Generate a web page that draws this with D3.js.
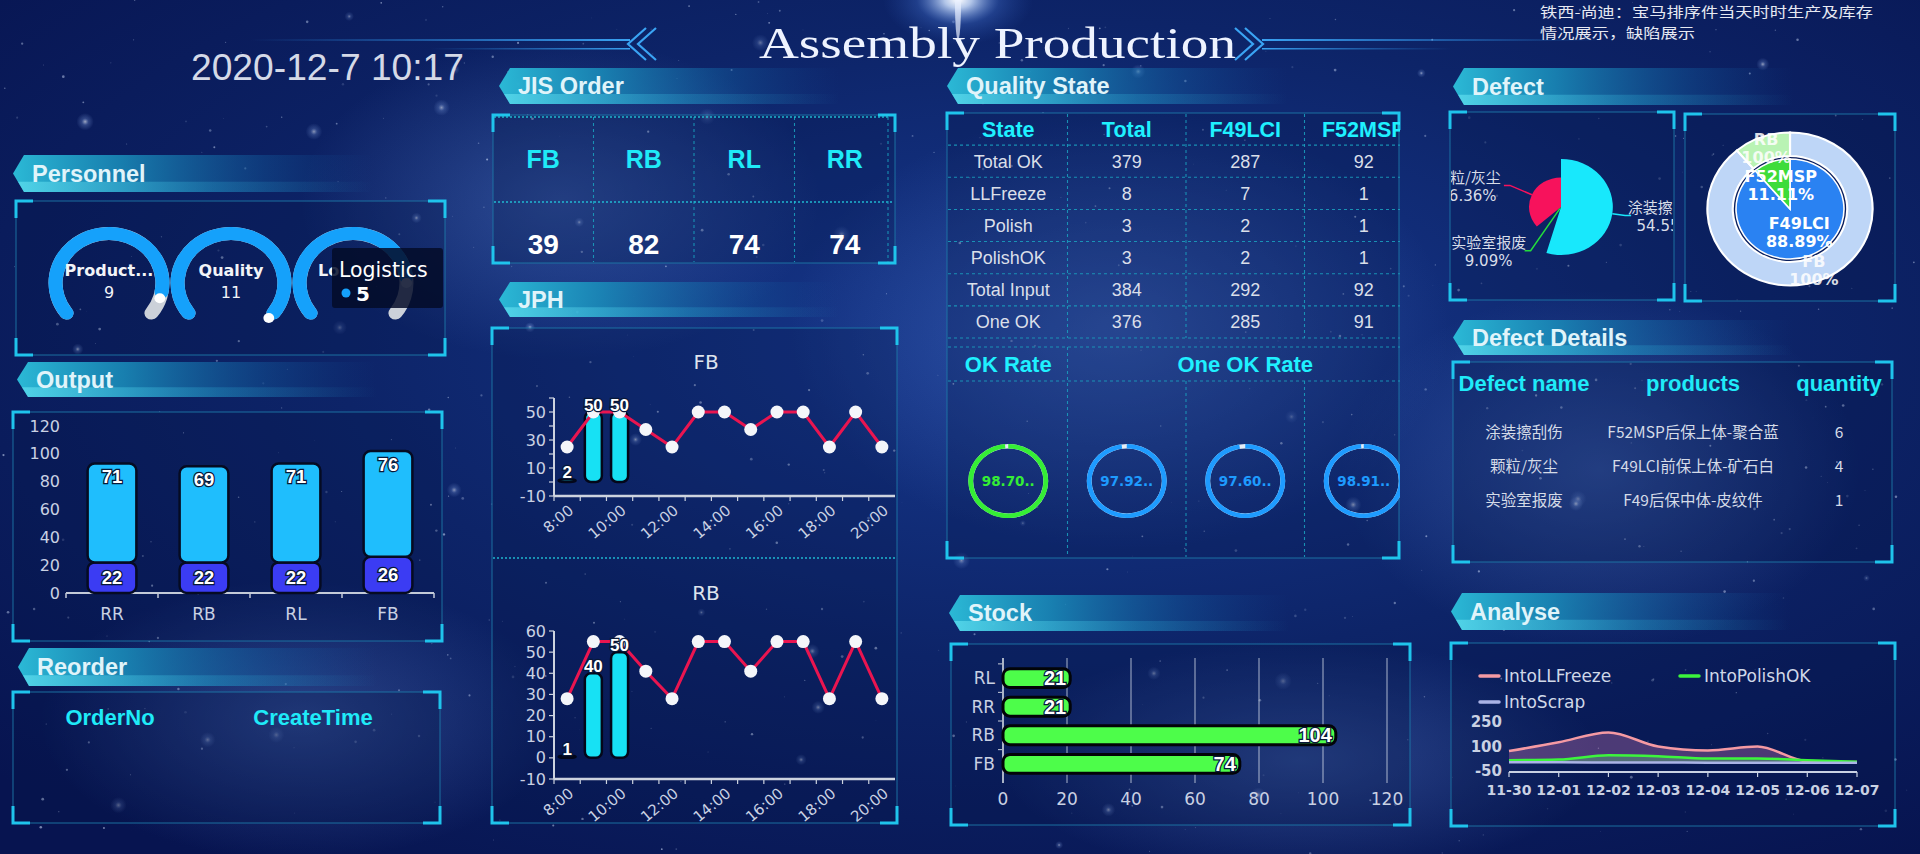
<!DOCTYPE html>
<html lang="en">
<head>
<meta charset="UTF-8">
<title>Assembly Production</title>
<script src="https://d3js.org/d3.v7.min.js"></script>
<style>
  html, body { margin: 0; padding: 0; background: #081650; overflow: hidden; }
  svg { display: block; }
  text { font-family: "Liberation Sans", Arial, sans-serif; }
  .cjk { font-family: "Noto Sans CJK SC", sans-serif; }
  .dv { font-family: "DejaVu Sans", sans-serif; }
</style>
</head>
<body>
<svg id="board"></svg>
<script>

// ---------- data ----------
const titleText = 'Assembly Production';
const clockText = '2020-12-7 10:17';
const noteLines = ['铁西-尚迪：宝马排序件当天时时生产及库存', '情况展示，缺陷展示'];

const personnelNames = ['Production', 'Quality', 'Logistics'];
const personnelValues = [9, 11, 5];
const personnelMax = [10, 11, 6];

const jisParts = ['FB', 'RB', 'RL', 'RR'];
const jisCounts = [39, 82, 74, 74];

const outputParts = ['RR', 'RB', 'RL', 'FB'];
const outputLower = [22, 22, 22, 26];
const outputUpper = [71, 69, 71, 76];
const outputTicks = [0, 20, 40, 60, 80, 100, 120];

const reorderHeads = ['OrderNo', 'CreateTime'];

const jphHours = ['8:00', '9:00', '10:00', '11:00', '12:00', '13:00', '14:00',
                  '15:00', '16:00', '17:00', '18:00', '19:00', '20:00'];
const jphFbActual = [2, 50, 50];
const jphFbPlan = [25, 50, 50, 37.5, 25, 50, 50, 37.5, 50, 50, 25, 50, 25];
const jphRbActual = [1, 40, 50];
const jphRbPlan = [28, 55, 55, 41, 28, 55, 55, 41, 55, 55, 28, 55, 28];
const jphTicks = [-10, 0, 10, 20, 30, 40, 50, 60];

const qualityHeads = ['State', 'Total', 'F49LCI', 'F52MSP'];
const qualityStates = ['Total OK', 'LLFreeze', 'Polish', 'PolishOK', 'Total Input', 'One OK'];
const qualityTotal = [379, 8, 3, 3, 384, 376];
const qualityF49 = [287, 7, 2, 2, 292, 285];
const qualityF52 = [92, 1, 1, 1, 92, 91];
const okRates = [98.70];
const oneOkRates = [97.92, 97.60, 98.91];

const stockParts = ['RL', 'RR', 'RB', 'FB'];
const stockCounts = [21, 21, 104, 74];
const stockTicks = [0, 20, 40, 60, 80, 100, 120];

const defectHeads = ['Defect name', 'products', 'quantity'];
const defectNames = ['涂装擦刮伤', '颗粒/灰尘', '实验室报废'];
const defectProducts = ['F52MSP后保上体-聚合蓝', 'F49LCI前保上体-矿石白', 'F49后保中体-皮纹件'];
const defectQty = [6, 4, 1];

const pieNames = ['涂装擦刮伤', '实验室报废', '颗粒/灰尘'];
const pieCounts = [6, 1, 4];
const modelNames = ['F49LCI', 'F52MSP'];
const modelCounts = [8, 1];
const partNames = ['FB', 'RB'];
const partCounts = [8, 1];
const partLabels = ['100%', '100%'];

const analyseDates = ['11-30', '12-01', '12-02', '12-03', '12-04', '12-05', '12-06', '12-07'];
const intoLLFreeze = [72, 126, 186, 100, 76, 100, 10, 5];
const intoPolishOK = [16, 20, 46, 40, 26, 26, 16, 6];
const intoScrap = [3, 3, 2, 2, 1, 1, 1, 1];
const analyseTicks = [-50, 100, 250];

// ---------- setup ----------
const W = 1920, H = 854;
const SX = 1.08;   // the board is drawn a little wider than tall
const svg = d3.select('#board').attr('width', W).attr('height', H);
const defs = svg.append('defs');

let addStops = function(grad, stops) {
  stops.forEach(s => grad.append('stop').attr('offset', s[0])
    .attr('stop-color', s[1]).attr('stop-opacity', s[2] === undefined ? 1 : s[2]));
  return grad;
};

addStops(defs.append('radialGradient').attr('id', 'bgGrad')
  .attr('cx', 0.55).attr('cy', 0.4).attr('r', 0.75),
  [['0%', '#17398f'], ['50%', '#0d2468'], ['100%', '#071450']]);
addStops(defs.append('radialGradient').attr('id', 'glow'),
  [['0%', '#6d98e8', 0.32], ['100%', '#6d98e8', 0]]);
addStops(defs.append('radialGradient').attr('id', 'flare'),
  [['0%', '#ffffff', 1], ['18%', '#cfe2ff', 0.85], ['55%', '#4d7fe0', 0.3], ['100%', '#3060c0', 0]]);
addStops(defs.append('radialGradient').attr('id', 'starGlow'),
  [['0%', '#ffffff', 0.9], ['40%', '#9fc0ff', 0.35], ['100%', '#9fc0ff', 0]]);
addStops(defs.append('linearGradient').attr('id', 'ribbonFill'),
  [['0%', '#2bb9d6', 1], ['30%', '#1a8fbc', 0.85], ['70%', '#1466a8', 0.35], ['100%', '#124c96', 0]]);
addStops(defs.append('linearGradient').attr('id', 'ribbonShine'),
  [['0%', '#6ae6f4', 0.6], ['55%', '#2fb2d8', 0.25], ['100%', '#2fb2d8', 0]]);
addStops(defs.append('linearGradient').attr('id', 'fadeL'),
  [['0%', '#2b8ee6', 0], ['100%', '#3aa2f2', 1]]);
addStops(defs.append('linearGradient').attr('id', 'fadeR'),
  [['0%', '#3aa2f2', 1], ['100%', '#2b8ee6', 0]]);

// ---------- background ----------
svg.append('rect').attr('width', W).attr('height', H).attr('fill', 'url(#bgGrad)');
[[1120, 330, 330, 220], [560, 200, 260, 160], [1600, 470, 260, 180], [300, 720, 260, 140], [1300, 760, 300, 120]]
  .forEach(g => svg.append('ellipse').attr('cx', g[0]).attr('cy', g[1]).attr('rx', g[2]).attr('ry', g[3])
    .attr('fill', 'url(#glow)'));

let seed = 12345;
let rnd = function() { seed = (seed * 16807) % 2147483647; return seed / 2147483647; };
for (let i = 0; i < 520; i++) {
  svg.append('circle').attr('cx', rnd() * W).attr('cy', rnd() * H)
    .attr('r', 0.3 + rnd() * 1.1).attr('fill', '#d6e4ff').attr('opacity', 0.12 + rnd() * 0.45);
}
for (let i = 0; i < 40; i++) {
  svg.append('circle').attr('cx', rnd() * W).attr('cy', rnd() * H)
    .attr('r', 3 + rnd() * 6).attr('fill', 'url(#starGlow)').attr('opacity', 0.35 + rnd() * 0.4);
}
svg.append('ellipse').attr('cx', 958).attr('cy', 0).attr('rx', 75).attr('ry', 45).attr('fill', 'url(#flare)');
svg.append('ellipse').attr('cx', 958).attr('cy', 4).attr('rx', 3).attr('ry', 36).attr('fill', '#e8f0ff').attr('opacity', 0.7);

// ---------- header ----------
svg.append('rect').attr('x', 250).attr('y', 39).attr('width', 380).attr('height', 2).attr('fill', 'url(#fadeL)');
svg.append('rect').attr('x', 430).attr('y', 48).attr('width', 200).attr('height', 1.5).attr('fill', 'url(#fadeL)');
svg.append('rect').attr('x', 1262).attr('y', 39).attr('width', 340).attr('height', 2).attr('fill', 'url(#fadeR)');
svg.append('rect').attr('x', 1262).attr('y', 48).attr('width', 190).attr('height', 1.5).attr('fill', 'url(#fadeR)');
[[628, 1], [638, 1], [1263, -1], [1253, -1]].forEach(c => {
  svg.append('path').attr('d', `M${c[0] + c[1] * 18},${28}L${c[0]},${44}L${c[0] + c[1] * 18},${60}`)
    .attr('fill', 'none').attr('stroke', '#3aa4f4').attr('stroke-width', 2.2);
});

svg.append('text').attr('x', 759).attr('y', 58)
  .attr('textLength', 477).attr('lengthAdjust', 'spacingAndGlyphs')
  .style('font-family', '"Liberation Serif", serif').style('font-size', '45px')
  .attr('fill', '#eef3ff').text(titleText);

svg.append('text').attr('x', 191).attr('y', 80).attr('textLength', 273).attr('lengthAdjust', 'spacingAndGlyphs')
  .style('font-size', '36px').attr('fill', '#d4d9e7').text(clockText);

const noteWidths = [333, 155];
noteLines.forEach((t, i) => {
  svg.append('text').attr('class', 'cjk').attr('x', 1540).attr('y', 17 + i * 21)
    .attr('textLength', noteWidths[i]).attr('lengthAdjust', 'spacingAndGlyphs')
    .style('font-size', '14px').attr('fill', '#e6e9f2').text(t);
});

// ---------- helpers ----------
let ribbon = function(x, y, w, h, label) {
  let g = svg.append('g');
  g.append('path').attr('d', `M${x},${y + h / 2}L${x + 11},${y}L${x + w},${y}L${x + w},${y + h}L${x + 11},${y + h}Z`)
    .attr('fill', 'url(#ribbonFill)');
  g.append('path').attr('d', `M${x + 5},${y + h * 0.72}L${x + w},${y + h * 0.72}L${x + w},${y + h}L${x + 11},${y + h}Z`)
    .attr('fill', 'url(#ribbonShine)');
  g.append('text').attr('x', x + 19).attr('y', y + h / 2).attr('dy', '0.36em')
    .attr('fill', '#e0f4fa').style('font-size', '23.5px').style('font-weight', 'bold').text(label);
};

let frame = function(x, y, w, h) {
  let g = svg.append('g');
  g.append('rect').attr('x', x).attr('y', y).attr('width', w).attr('height', h)
    .attr('fill', 'rgba(5,18,66,0.25)').attr('stroke', '#1d78a8')
    .attr('stroke-opacity', 0.75).attr('stroke-width', 1.2);
  const c = 17;
  [[x, y, 1, 1], [x + w, y, -1, 1], [x, y + h, 1, -1], [x + w, y + h, -1, -1]].forEach(p => {
    g.append('path').attr('d', `M${p[0]},${p[1] + p[3] * c}L${p[0]},${p[1]}L${p[0] + p[2] * c},${p[1]}`)
      .attr('fill', 'none').attr('stroke', '#1fc4ec').attr('stroke-width', 3);
  });
};

let dotted = function(g, x1, y1, x2, y2, bright) {
  g.append('line').attr('x1', x1).attr('y1', y1).attr('x2', x2).attr('y2', y2)
    .attr('stroke', bright ? '#22c6dc' : '#1a9cbc').attr('stroke-width', bright ? 1.6 : 1.1)
    .attr('stroke-dasharray', bright ? '2,2' : '3,3').attr('opacity', 0.9);
};

let axisText = function(x, y, t, anchor, size, bold) {
  return svg.append('text').attr('class', 'dv').attr('x', x).attr('y', y).attr('text-anchor', anchor || 'middle')
    .attr('dy', '0.35em').style('font-size', (size || 15) + 'px').style('font-weight', bold ? 'bold' : 'normal')
    .attr('fill', '#c9d1e3').text(t);
};

let valueLabel = function(x, y, t, anchor, size) {
  return svg.append('text').attr('x', x).attr('y', y).attr('text-anchor', anchor || 'middle')
    .attr('dy', '0.35em').style('font-size', (size || 16) + 'px').style('font-weight', 'bold')
    .attr('fill', '#ffffff').attr('stroke', '#081838').attr('stroke-width', 2.5)
    .style('paint-order', 'stroke').text(t);
};

let headText = function(x, y, t, size) {
  return svg.append('text').attr('x', x).attr('y', y).attr('dy', '0.36em').attr('text-anchor', 'middle')
    .style('font-size', size + 'px').style('font-weight', 'bold').attr('fill', '#1feaf8').text(t);
};

// ---------- ribbons & frames ----------
ribbon(13, 155, 360, 37, 'Personnel');
ribbon(17, 362, 360, 35, 'Output');
ribbon(18, 648, 360, 38, 'Reorder');
ribbon(499, 68, 340, 36, 'JIS Order');
ribbon(499, 282, 340, 35, 'JPH');
ribbon(947, 68, 340, 36, 'Quality State');
ribbon(949, 595, 340, 36, 'Stock');
ribbon(1453, 68, 340, 37, 'Defect');
ribbon(1453, 320, 340, 35, 'Defect Details');
ribbon(1451, 593, 340, 37, 'Analyse');

frame(16, 201, 429, 154);
frame(13, 412, 429, 229);
frame(13, 692, 427, 131);
frame(493, 115, 402, 148);
frame(492, 328, 405, 495);
frame(947, 113, 452, 445);
frame(951, 644, 459, 181);
frame(1450, 112, 224, 188);
frame(1685, 114, 210, 187);
frame(1453, 362, 439, 200);
frame(1451, 643, 444, 183);

// ---------- personnel gauges ----------
const gaugeX = d3.scalePoint().domain(personnelNames).range([109, 353]);
const gaugeArc = d3.arc().innerRadius(43).outerRadius(56).cornerRadius(6.5);
const gStart = -0.75 * Math.PI, gEnd = 0.75 * Math.PI;
const tipIndex = 2;  // the hover tip that sits over the last gauge
personnelNames.forEach((name, i) => {
  let a = d3.scaleLinear().domain([0, personnelMax[i]]).range([gStart, gEnd])(personnelValues[i]);
  let cx = gaugeX(name), cy = 283;
  let g = svg.append('g').attr('transform', `translate(${cx},${cy}) scale(${SX},1)`);
  g.append('path').attr('d', gaugeArc({ startAngle: gStart, endAngle: gEnd })).attr('fill', '#ccd1d9');
  g.append('path').attr('d', gaugeArc({ startAngle: gStart, endAngle: a })).attr('fill', '#15a1fb');
  g.append('circle').attr('cx', 49.5 * Math.sin(a)).attr('cy', -49.5 * Math.cos(a)).attr('r', 5).attr('fill', '#ffffff');
  let shortName = name.length > 9 ? name.slice(0, 7) + '...' : name;
  if (i === tipIndex) {
    // only the left end of this label shows from under the tip
    svg.append('text').attr('class', 'dv').attr('x', cx - 35).attr('y', cy - 13).attr('dy', '0.35em')
      .style('font-size', '16px').style('font-weight', 'bold').attr('fill', '#f2f4f8').text(shortName.slice(0, 2));
    return;
  }
  svg.append('text').attr('class', 'dv').attr('x', cx).attr('y', cy - 13).attr('dy', '0.35em')
    .attr('text-anchor', 'middle').style('font-size', '16px').style('font-weight', 'bold')
    .attr('fill', '#f2f4f8').text(shortName);
  svg.append('text').attr('class', 'dv').attr('x', cx).attr('y', cy + 9).attr('dy', '0.35em')
    .attr('text-anchor', 'middle').style('font-size', '16px').attr('fill', '#f2f4f8').text(personnelValues[i]);
});
svg.append('rect').attr('x', 332).attr('y', 248).attr('width', 111).attr('height', 60).attr('rx', 3)
  .attr('fill', 'rgba(4,12,40,0.85)');
svg.append('text').attr('class', 'dv').attr('x', 339).attr('y', 270).attr('dy', '0.35em')
  .style('font-size', '20.5px').attr('fill', '#ffffff').text(personnelNames[tipIndex]);
svg.append('circle').attr('cx', 346).attr('cy', 293).attr('r', 4.5).attr('fill', '#15a1fb');
svg.append('text').attr('class', 'dv').attr('x', 356).attr('y', 294).attr('dy', '0.35em')
  .style('font-size', '20px').style('font-weight', 'bold').attr('fill', '#ffffff').text(personnelValues[tipIndex]);

// ---------- output stacked bars ----------
const outX = d3.scaleBand().domain(outputParts).range([66, 434]).paddingInner(0.47).paddingOuter(0.235);
const outY = d3.scaleLinear().domain([0, 120]).range([593, 426]);
const outRows = outputParts.map((p, i) => ({ part: p, lower: outputLower[i], upper: outputUpper[i] }));
const outStack = d3.stack().keys(['lower', 'upper'])(outRows);
const outColors = { lower: '#3b3cf3', upper: '#1fbefd' };

outputTicks.forEach(t => axisText(60, outY(t), t, 'end', 16));
svg.append('line').attr('x1', 66).attr('x2', 434).attr('y1', 593).attr('y2', 593)
  .attr('stroke', '#c3cad8').attr('stroke-width', 2);
outputParts.concat([null]).forEach(p => {
  let tx = p ? outX(p) - outX.step() * outX.paddingInner() / 2 : 434;
  svg.append('line').attr('x1', tx).attr('x2', tx).attr('y1', 593).attr('y2', 598)
    .attr('stroke', '#c3cad8').attr('stroke-width', 1.5);
});
outputParts.forEach(p => axisText(outX(p) + outX.bandwidth() / 2, 614, p, 'middle', 17));

outStack.forEach(layer => {
  layer.forEach(seg => {
    svg.append('rect').attr('x', outX(seg.data.part)).attr('y', outY(seg[1]))
      .attr('width', outX.bandwidth()).attr('height', outY(seg[0]) - outY(seg[1])).attr('rx', 7)
      .attr('fill', outColors[layer.key]).attr('stroke', '#050b22').attr('stroke-width', 2.5);
  });
});
outStack.forEach(layer => {
  layer.forEach(seg => {
    let cx = outX(seg.data.part) + outX.bandwidth() / 2;
    let ly = layer.key === 'upper' ? outY(seg[1]) + 13 : (outY(seg[0]) + outY(seg[1])) / 2;
    valueLabel(cx, ly, seg.data[layer.key], 'middle', 18.5);
  });
});

// ---------- reorder ----------
const reorderX = [110, 313];
reorderHeads.forEach((h, i) => headText(reorderX[i], 717, h, 22));

// ---------- JIS order ----------
const jisX = d3.scaleBand().domain(jisParts).range([493, 895]);
const jisG = svg.append('g');
jisParts.slice(1).forEach(p => dotted(jisG, jisX(p), 117, jisX(p), 262, false));
dotted(jisG, 494, 202, 894, 202, true);
dotted(jisG, 494, 117, 888, 117, true);
dotted(jisG, 888, 117, 888, 262, false);
jisParts.forEach((p, i) => {
  let cx = jisX(p) + jisX.bandwidth() / 2;
  headText(cx, 159, p, 25);
  svg.append('text').attr('x', cx).attr('y', 244).attr('dy', '0.36em').attr('text-anchor', 'middle')
    .style('font-size', '28px').style('font-weight', 'bold').attr('fill', '#ffffff').text(jisCounts[i]);
});

// ---------- JPH charts ----------
let jphChart = function(title, actual, plan, yBottom, yTop, titleY, everyLabel) {
  let x = d3.scaleBand().domain(jphHours).range([554, 895]);
  let y = d3.scaleLinear().domain([-10, 60]).range([yBottom, yTop]);
  let cx = h => x(h) + x.bandwidth() / 2;
  svg.append('text').attr('class', 'dv').attr('x', 706).attr('y', titleY).attr('dy', '0.35em')
    .attr('text-anchor', 'middle').style('font-size', '20px').attr('fill', '#dfe4ee').text(title);

  svg.append('line').attr('x1', 554).attr('x2', 554).attr('y1', yTop).attr('y2', yBottom)
    .attr('stroke', '#cdd3df').attr('stroke-width', 2);
  jphTicks.forEach((t, i) => {
    svg.append('line').attr('x1', 549).attr('x2', 554).attr('y1', y(t)).attr('y2', y(t))
      .attr('stroke', '#cdd3df').attr('stroke-width', 1.2);
    if (everyLabel || i % 2 === 0) axisText(546, y(t), t, 'end', 16);
  });
  svg.append('line').attr('x1', 554).attr('x2', 895).attr('y1', yBottom).attr('y2', yBottom)
    .attr('stroke', '#cdd3df').attr('stroke-width', 2.5);
  jphHours.forEach((h, i) => {
    svg.append('line').attr('x1', x(h)).attr('x2', x(h)).attr('y1', yBottom).attr('y2', yBottom + 5)
      .attr('stroke', '#cdd3df').attr('stroke-width', 1.2);
    if (i % 2 === 0) {
      svg.append('text').attr('class', 'dv').attr('transform', `translate(${cx(h) + 4},${yBottom + 12}) rotate(-40)`)
        .attr('text-anchor', 'end').attr('dy', '0.35em').style('font-size', '15px')
        .attr('fill', '#c9d1e3').text(h);
    }
  });

  actual.forEach((v, i) => {
    svg.append('rect').attr('x', cx(jphHours[i]) - 8.5).attr('y', y(v)).attr('width', 17)
      .attr('height', y(0) - y(v)).attr('rx', 6)
      .attr('fill', '#17e1f4').attr('stroke', '#03071a').attr('stroke-width', 2.5);
  });
  svg.append('path').datum(plan)
    .attr('d', d3.line().x((d, i) => cx(jphHours[i])).y(d => y(d)))
    .attr('fill', 'none').attr('stroke', '#ea1550').attr('stroke-width', 3);
  plan.forEach((v, i) => {
    svg.append('circle').attr('cx', cx(jphHours[i])).attr('cy', y(v)).attr('r', 6.5).attr('fill', '#f4f6fa');
  });
  actual.forEach((v, i) => valueLabel(cx(jphHours[i]), y(v) - 7, v, 'middle', 17));
};
jphChart('FB', jphFbActual, jphFbPlan, 496, 398, 362, false);
jphChart('RB', jphRbActual, jphRbPlan, 779, 631, 593, true);
dotted(svg, 493, 558, 896, 558, true);

// ---------- quality state ----------
defs.append('clipPath').attr('id', 'qClip').append('rect')
  .attr('x', 946).attr('y', 111).attr('width', 454).attr('height', 449);
const qG = svg.append('g').attr('clip-path', 'url(#qClip)');
const qX = d3.scaleBand().domain(qualityHeads).range([949, 1423]);
const qRows = ['head'].concat(qualityStates);
const qY = d3.scaleBand().domain(qRows).range([113, 338]);
const qColumns = [qualityStates, qualityTotal, qualityF49, qualityF52];
const qMid = h => qX(h) + qX.bandwidth() / 2;

qRows.forEach(r => dotted(qG, 948, qY(r) + qY.bandwidth(), 1420, qY(r) + qY.bandwidth(), false));
dotted(qG, 948, 347, 1420, 347, false);
dotted(qG, 948, 381, 1420, 381, false);
qualityHeads.slice(1).forEach((h, i) => {
  dotted(qG, qX(h), 114, qX(h), 338, false);
  dotted(qG, qX(h), i === 0 ? 347 : 381, qX(h), 557, false);
});
qualityHeads.forEach((h, c) => {
  qG.append('text').attr('x', qMid(h)).attr('y', qY('head') + qY.bandwidth() / 2).attr('dy', '0.36em')
    .attr('text-anchor', 'middle').style('font-size', '21.5px').style('font-weight', 'bold')
    .attr('fill', '#1ff0ff').text(h);
  qualityStates.forEach((s, r) => {
    qG.append('text').attr('x', qMid(h)).attr('y', qY(s) + qY.bandwidth() / 2).attr('dy', '0.36em')
      .attr('text-anchor', 'middle').style('font-size', '18px').attr('fill', '#dadfe9').text(qColumns[c][r]);
  });
});
qG.append('text').attr('x', qMid('State')).attr('y', 364).attr('dy', '0.36em').attr('text-anchor', 'middle')
  .style('font-size', '22px').style('font-weight', 'bold').attr('fill', '#1ff0ff').text('OK Rate');
qG.append('text').attr('x', (qX('Total') + qX('F52MSP') + qX.bandwidth()) / 2).attr('y', 364).attr('dy', '0.36em')
  .attr('text-anchor', 'middle').style('font-size', '22px').style('font-weight', 'bold')
  .attr('fill', '#1ff0ff').text('One OK Rate');

const rateValues = okRates.concat(oneOkRates);
const rateColors = ['#35ee35', '#1e9bff', '#1e9bff', '#1e9bff'];
const ringArc = d3.arc().innerRadius(32.5).outerRadius(37);
rateValues.forEach((v, i) => {
  let h = qualityHeads[i];
  let g = qG.append('g').attr('transform', `translate(${qMid(h)},481) scale(${SX},1)`);
  g.append('path').attr('d', ringArc({ startAngle: 0, endAngle: 2 * Math.PI })).attr('fill', '#e6edf6');
  g.append('path').attr('d', ringArc({ startAngle: 0, endAngle: 2 * Math.PI * v / 100 })).attr('fill', rateColors[i]);
  qG.append('text').attr('class', 'dv').attr('x', qMid(h)).attr('y', 481).attr('dy', '0.36em')
    .attr('text-anchor', 'middle').style('font-size', '13.5px').style('font-weight', 'bold')
    .attr('fill', rateColors[i]).text(v.toFixed(2) + '..');
});

// ---------- stock ----------
const stX = d3.scaleLinear().domain([0, 120]).range([1003, 1387]);
const stY = d3.scaleBand().domain(stockParts).range([659, 783]).padding(0.34);
stockTicks.forEach(t => {
  if (t > 0) {
    svg.append('line').attr('x1', stX(t)).attr('x2', stX(t)).attr('y1', 658).attr('y2', 783)
      .attr('stroke', '#dfe5f0').attr('stroke-opacity', 0.75).attr('stroke-width', 1);
  }
  axisText(stX(t), 799, t, 'middle', 17);
});
svg.append('line').attr('x1', 1003).attr('x2', 1003).attr('y1', 658).attr('y2', 783)
  .attr('stroke', '#aab3c6').attr('stroke-width', 2);
stockParts.forEach(p => {
  let by = stY(p) - stY.step() * stY.paddingInner() / 2;
  svg.append('line').attr('x1', 998).attr('x2', 1003).attr('y1', by).attr('y2', by)
    .attr('stroke', '#aab3c6').attr('stroke-width', 1.2);
  axisText(995, stY(p) + stY.bandwidth() / 2, p, 'end', 17);
});
stockParts.forEach((p, i) => {
  svg.append('rect').attr('x', stX(0)).attr('y', stY(p)).attr('width', stX(stockCounts[i]) - stX(0))
    .attr('height', stY.bandwidth()).attr('rx', 7)
    .attr('fill', '#4dfd4a').attr('stroke', '#020408').attr('stroke-width', 3);
  valueLabel(stX(stockCounts[i]) - 4, stY(p) + stY.bandwidth() / 2, stockCounts[i], 'end', 20);
});

// ---------- defect details ----------
const ddX = [1524, 1693, 1839];
const ddY = d3.scalePoint().domain(defectNames).range([433, 501]);
defectHeads.forEach((h, i) => headText(ddX[i], 383, h, 22));
defectNames.forEach((n, r) => {
  [n, defectProducts[r], defectQty[r]].forEach((t, c) => {
    svg.append('text').attr('class', 'cjk').attr('x', ddX[c]).attr('y', ddY(n)).attr('dy', '0.35em')
      .attr('text-anchor', 'middle').style('font-size', '15.5px').attr('fill', '#d5dbe7').text(t);
  });
});

// ---------- defect rose pie ----------
defs.append('clipPath').attr('id', 'pieClip').append('rect')
  .attr('x', 1451).attr('y', 113).attr('width', 222).attr('height', 186);
const p1G = svg.append('g').attr('clip-path', 'url(#pieClip)');
const p1x = 1561, p1y = 207;
const roseSlices = d3.pie().sort(null).value(d => d)(pieCounts);
const roseR = d3.scaleLinear().domain([1, 6]).range([2, 48]);
const roseColors = ['#18e8fc', '#23dc3c', '#f7125c'];
const pieTotal = d3.sum(pieCounts);
roseSlices.forEach((s, i) => {
  let r = roseR(pieCounts[i]);
  p1G.append('path').attr('d', d3.arc().innerRadius(0).outerRadius(r)(s))
    .attr('transform', `translate(${p1x},${p1y}) scale(${SX},1)`).attr('fill', roseColors[i]);
});
roseSlices.forEach((s, i) => {
  let r = roseR(pieCounts[i]);
  let m = (s.startAngle + s.endAngle) / 2;
  let re = Math.max(r + 12, 52);
  let p0 = [p1x + r * Math.sin(m) * SX, p1y - r * Math.cos(m)];
  let pe = [p1x + re * Math.sin(m) * SX, p1y - re * Math.cos(m)];
  let right = Math.sin(m) > 0;
  let pEnd = [pe[0] + (right ? 6 : -6), pe[1]];
  p1G.append('path').attr('d', `M${p0}L${pe}L${pEnd}`).attr('fill', 'none')
    .attr('stroke', roseColors[i]).attr('stroke-width', 1.5);
  let lx = pEnd[0] + (right ? 34 : -36);
  p1G.append('text').attr('class', 'cjk').attr('x', lx).attr('y', pe[1] - 8).attr('dy', '0.35em')
    .attr('text-anchor', 'middle').style('font-size', '15px').attr('fill', '#d8dde8').text(pieNames[i]);
  p1G.append('text').attr('class', 'dv').attr('x', lx).attr('y', pe[1] + 10).attr('dy', '0.35em')
    .attr('text-anchor', 'middle').style('font-size', '15px').attr('fill', '#d8dde8')
    .text(d3.format('.2%')(pieCounts[i] / pieTotal));
});

// ---------- model / part pie ----------
const p2x = 1790, p2y = 209;
const modelSlices = d3.pie().sort(null)(modelCounts);
const partSlices = d3.pie().sort(null)(partCounts);
const innerArc = d3.arc().innerRadius(0).outerRadius(50);
const outerArc = d3.arc().innerRadius(53).outerRadius(76.5);
const modelColors = ['#2a82f2', '#3ddc3a'];
const partColors = ['#bed6f7', '#b9f3b4'];
const p2G = svg.append('g').attr('transform', `translate(${p2x},${p2y}) scale(${SX},1)`);
partSlices.forEach((s, i) => p2G.append('path').attr('d', outerArc(s)).attr('fill', partColors[i])
  .attr('stroke', '#ffffff').attr('stroke-width', 2));
modelSlices.forEach((s, i) => p2G.append('path').attr('d', innerArc(s)).attr('fill', modelColors[i])
  .attr('stroke', '#ffffff').attr('stroke-width', 1.5));
let pieLabel = function(arc, s, a, b, op) {
  let c = arc.centroid(s);
  let x = p2x + c[0] * SX, y = p2y + c[1];
  [a, b].forEach((t, k) => {
    svg.append('text').attr('class', 'dv').attr('x', x).attr('y', y + (k ? 9 : -9)).attr('dy', '0.36em')
      .attr('text-anchor', 'middle').style('font-size', '16px').style('font-weight', 'bold')
      .attr('fill', '#ffffff').attr('opacity', op).text(t);
  });
};
const modelTotal = d3.sum(modelCounts);
modelSlices.forEach((s, i) => pieLabel(innerArc, s, modelNames[i], d3.format('.2%')(modelCounts[i] / modelTotal), 1));
partSlices.forEach((s, i) => pieLabel(outerArc, s, partNames[i], partLabels[i], 0.85));

// ---------- analyse ----------
const anX = d3.scalePoint().domain(analyseDates).range([1509, 1857]);
const anY = d3.scaleLinear().domain([-50, 250]).range([771, 722]);
const anSeries = [
  { name: 'IntoLLFreeze', values: intoLLFreeze, color: '#f59aa3', fill: 'rgba(190,110,170,0.38)' },
  { name: 'IntoPolishOK', values: intoPolishOK, color: '#3cf53c', fill: 'rgba(90,230,120,0.30)' },
  { name: 'IntoScrap', values: intoScrap, color: '#aab3e6', fill: 'rgba(120,200,220,0.25)' }
];
const legendPos = [[1480, 676], [1680, 676], [1480, 702]];

analyseTicks.forEach(t => axisText(1502, anY(t), t, 'end', 15, true));
anSeries.forEach(s => {
  svg.append('path').datum(s.values)
    .attr('d', d3.area().x((d, i) => anX(analyseDates[i])).y0(anY(0)).y1(d => anY(d)).curve(d3.curveMonotoneX))
    .attr('fill', s.fill);
});
anSeries.forEach(s => {
  svg.append('path').datum(s.values)
    .attr('d', d3.line().x((d, i) => anX(analyseDates[i])).y(d => anY(d)).curve(d3.curveMonotoneX))
    .attr('fill', 'none').attr('stroke', s.color).attr('stroke-width', 2.5);
});
svg.append('line').attr('x1', 1509).attr('x2', 1857).attr('y1', 772).attr('y2', 772)
  .attr('stroke', '#c9d1e3').attr('stroke-width', 2);
analyseDates.forEach(d => {
  svg.append('line').attr('x1', anX(d)).attr('x2', anX(d)).attr('y1', 772).attr('y2', 777)
    .attr('stroke', '#c9d1e3').attr('stroke-width', 1.2);
  axisText(anX(d), 790, d, 'middle', 14, true);
});
anSeries.forEach((s, i) => {
  let p = legendPos[i];
  svg.append('line').attr('x1', p[0]).attr('x2', p[0] + 19).attr('y1', p[1]).attr('y2', p[1])
    .attr('stroke', s.color).attr('stroke-width', 3.5).attr('stroke-linecap', 'round');
  svg.append('text').attr('class', 'dv').attr('x', p[0] + 24).attr('y', p[1]).attr('dy', '0.35em')
    .style('font-size', '17px').attr('fill', '#d0d8e8').text(s.name);
});

</script>
</body>
</html>
